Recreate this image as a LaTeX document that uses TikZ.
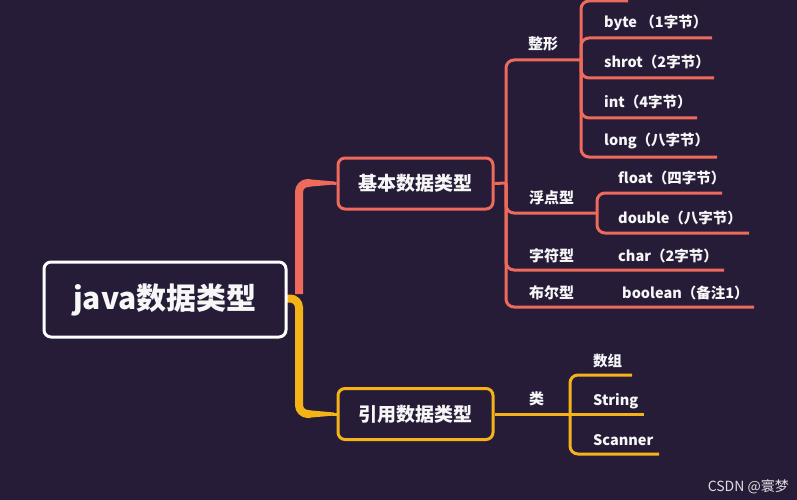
\documentclass[tikz,border=0pt]{standalone}
\usepackage{fontspec}
\setmainfont{Noto Sans CJK SC}
\definecolor{bg}{HTML}{261C38}
\definecolor{coral}{HTML}{EE6A5A}
\definecolor{gold}{HTML}{F6B318}
\definecolor{txt}{HTML}{F7F7F7}
\begin{document}
\begin{tikzpicture}[x=1pt,y=-1pt,
  rootbox/.style={draw=white,line width=3pt,rounded corners=7pt,fill=bg,text=txt,
    minimum width=242pt,minimum height=75pt,font=\fontsize{30}{34}\selectfont\bfseries},
  topicbox/.style={line width=3pt,rounded corners=7pt,fill=bg,text=txt,
    minimum width=155pt,minimum height=51pt,font=\fontsize{19}{22}\selectfont\bfseries},
  lbl/.style={anchor=west,inner sep=0pt,text=txt,font=\fontsize{15}{18}\selectfont\bfseries},
  leaf/.style={anchor=west,inner sep=0pt,text=txt,font=\fontsize{14.5}{18}\selectfont\bfseries},
  cl/.style={draw=coral,line width=3pt,rounded corners=8pt},
  yl/.style={draw=gold,line width=3pt,rounded corners=8pt},
]
\fill[bg] (0,0) rectangle (797,500);
\useasboundingbox (0,0) rectangle (797,500);

% trunk
\coordinate (t0) at (286,298.5);
\coordinate (tc) at (299,183);
\coordinate (ty) at (299,414);
\draw[draw=gold,line width=8pt,rounded corners=9pt] (t0) -- (299,298.5) -- (ty) -- (310,414);
\draw[draw=coral,line width=8pt,rounded corners=9pt] (299,294) -- (tc) -- (310,183);

% boxes
\node[rootbox] (root) at (165,299.5) {java数据类型};
\node[topicbox,draw=coral] (b1) at (415.5,183.5) {基本数据类型};
\node[topicbox,draw=gold] (b2) at (415.5,414) {引用数据类型};
\fill[coral] (306,179) -- (334,181.5) -- (334,184.5) -- (306,187) -- cycle;
\draw[draw=coral,line width=3pt] (332,183) -- (b1.west);
\fill[gold] (306,410) -- (334,412.5) -- (334,415.5) -- (306,418) -- cycle;
\draw[draw=gold,line width=3pt] (332,414) -- (b2.west);

% level 2 (coral)
\coordinate (j1) at (506,183);
\coordinate (jz) at (581,60);
\coordinate (jf) at (597,213);
\draw[cl] (b1.east) -- (j1);
\draw[cl] (j1) -- (506,60) -- (jz);
\draw[cl] (j1) -- (506,213) -- (jf);
\draw[cl] (j1) -- (506,270) -- (724,270);
\draw[cl] (j1) -- (506,307) -- (754,307);

\node[lbl] (zx) at (528,44) {整形};
\node[lbl] (fd) at (529,198) {浮点型};
\node[lbl] (zf) at (529,256) {字符型};
\node[lbl] (be) at (529,293) {布尔型};

% 整形 children
\draw[cl] (jz) -- (581,1) -- (628,1);
\draw[cl] (jz) -- (581,38) -- (712,38);
\draw[cl] (jz) -- (581,78) -- (714,78);
\draw[cl] (jz) -- (581,118) -- (697,118);
\draw[cl] (jz) -- (581,157) -- (717,157);
\node[leaf] (byte) at (604,23) {byte （1字节）};
\node[leaf] (shrot) at (604,62) {shrot（2字节）};
\node[leaf] (int) at (604,102) {int（4字节）};
\node[leaf] (long) at (604,141) {long（八字节）};

% 浮点型 children
\draw[cl] (jf) -- (597,193) -- (722,193);
\draw[cl] (jf) -- (597,233) -- (749,233);
\node[leaf] (float) at (618,178) {float（四字节）};
\node[leaf] (double) at (618,218) {double（八字节）};

\node[leaf] (char) at (618,256) {char（2字节）};
\node[leaf] (bool) at (622,293) {boolean（备注1）};

% yellow branch
\coordinate (jl) at (570,414);
\draw[yl] (b2.east) -- (jl);
\draw[yl] (jl) -- (570,375) -- (632,375);
\draw[yl] (jl) -- (644,414);
\draw[yl] (jl) -- (570,454) -- (659,454);
\node[lbl] (lei) at (529,399) {类};
\node[leaf] (arr) at (593,361) {数组};
\node[leaf] (str) at (593,401) {String};
\node[leaf] (scn) at (593,440) {Scanner};

% watermark
\node[anchor=east,inner sep=0pt,text=white!85!bg,font=\fontsize{14}{16}\selectfont] (wm) at (789,487) {CSDN @寰梦};
\end{tikzpicture}
\end{document}
